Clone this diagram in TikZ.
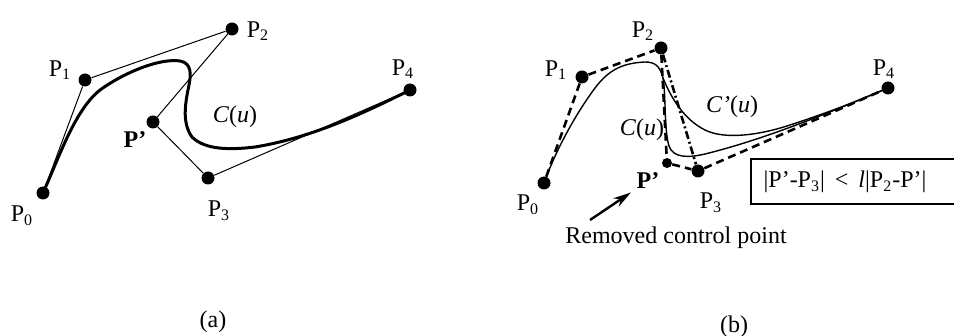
\documentclass[tikz,border=0pt]{standalone}
\usepackage{fontspec}
\setmainfont{Liberation Serif}
\usetikzlibrary{arrows.meta, positioning}
\tikzset{
  cpt/.style={circle,fill,inner sep=0pt,minimum size=6.5pt},
  lbl/.style={font=\fontsize{12}{14}\selectfont, inner sep=1pt},
  poly/.style={line width=0.5pt},
  dpoly/.style={line width=1.3pt, dash pattern=on 4pt off 2.5pt},
}

\begin{document}
\begin{tikzpicture}[x=0.5pt,y=-0.5pt]
            \useasboundingbox (0,0) rectangle (954,336);
            \clip (0,0) rectangle (954,336);
            % (a)
            \node[cpt](a0) at (43,193) {};
            \node[cpt](a1) at (85,80) {};
            \node[cpt](a2) at (232,29) {};
            \node[cpt](ap) at (153,122) {};
            \node[cpt](a3) at (208,178) {};
            \node[cpt](a4) at (410,90) {};
            \draw[poly] (a0) -- (a1);
            \draw[poly] (a1) -- (a2);
            \draw[poly] (a2) -- (ap);
            \draw[poly] (ap) -- (a3);
            \draw[poly] (a3) -- (a4);
            \draw[line width=1.5pt] (a0.center) .. controls (60,155) and (75,110) .. (100,90)
                .. controls (125,72) and (160,58) .. (180,61)
                .. controls (192,63) and (191,75) .. (189,85)
                .. controls (186,100) and (181,122) .. (192,137)
                .. controls (205,150) and (230,150) .. (255,147)
                .. controls (310,138) and (360,115) .. (a4.center);
            \node[lbl](la0) at (22,216) {P\textsubscript{0}};
            \node[lbl](la1) at (60,70) {P\textsubscript{1}};
            \node[lbl](la2) at (258,31) {P\textsubscript{2}};
            \node[lbl](la3) at (219,211) {P\textsubscript{3}};
            \node[lbl](la4) at (403,69) {P\textsubscript{4}};
            \node[lbl](lap) at (135,140) {\textbf{P'}};
            \node[lbl](lca) at (235,117) {\textit{C}(\textit{u})};
            \node[lbl](capa) at (213,322) {(a)};
            % (b)
            \node[cpt](b0) at (544,183) {};
            \node[cpt](b1) at (582,77) {};
            \node[cpt](b2) at (661,48) {};
            \node[cpt,minimum size=5pt](bp) at (667,163) {};
            \node[cpt](b3) at (698,171) {};
            \node[cpt](b4) at (888,88) {};
            \draw[dpoly] (b0) -- (b1);
            \draw[dpoly] (b1) -- (b2);
            \draw[dpoly] (b2) -- (bp);
            \draw[dpoly] (bp) -- (b3);
            \draw[dpoly] (b3) -- (b4);
            \draw[line width=1.3pt, dash pattern=on 4pt off 1.5pt on 1pt off 1.5pt] (b2) -- (b3);
            \draw[line width=0.7pt] (b0.center) .. controls (556,150) and (575,115) .. (595,88)
                .. controls (610,68) and (625,63) .. (645,62)
                .. controls (655,62) and (660,66) .. (663,78)
                .. controls (666,95) and (664,130) .. (669,146)
                .. controls (673,158) and (688,158) .. (705,154)
                .. controls (770,138) and (840,108) .. (b4.center);
            \coordinate (brk) at (663,78);
            \draw[line width=0.7pt] (brk) .. controls (672,100) and (685,120) .. (705,130)
                .. controls (725,140) and (760,135) .. (790,125)
                .. controls (830,112) and (860,100) .. (b4.center);
            \node[lbl](lb0) at (528,205) {P\textsubscript{0}};
            \node[lbl](lb1) at (556,70) {P\textsubscript{1}};
            \node[lbl](lb2) at (643,31) {P\textsubscript{2}};
            \node[lbl](lb3) at (711,203) {P\textsubscript{3}};
            \node[lbl](lb4) at (884,69) {P\textsubscript{4}};
            \node[lbl](lbp) at (648,181) {\textbf{P'}};
            \node[lbl](lcb) at (642,130) {\textit{C}(\textit{u})};
            \node[lbl](lcpb) at (732,107) {\textit{C'}(\textit{u})};
            \node[lbl](ineq) at (845,182) {|P'-P\textsubscript{3}|\ \,<\ \,\textit{l}|P\textsubscript{2}-P'|};
            \draw[line width=0.6pt] (970,159) -- (751,159) -- (751,204) -- (970,204);
            \node[lbl](rmv) at (676,238) {Removed control point};
            \coordinate (rmtail) at (590,220);
            \draw[-{Stealth[length=9pt,width=5pt]}, line width=1.2pt, shorten >=2pt] (rmtail) -- (lbp);
            \node[lbl](capb) at (734,327) {(b)};
        \end{tikzpicture}
\end{document}
